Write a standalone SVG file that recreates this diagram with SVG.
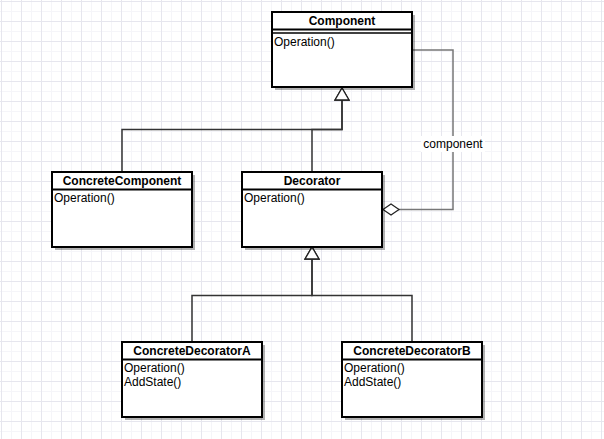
<svg xmlns="http://www.w3.org/2000/svg" width="604" height="439" viewBox="0 0 604 439">
  <defs>
    <pattern id="grid" x="0" y="0" width="20" height="20" patternUnits="userSpaceOnUse">
      <path d="M11.5,0 V20 M0,11.5 H20" fill="none" stroke="#f5f5f9" stroke-width="1"/>
      <path d="M1.5,0 V20 M0,1.5 H20" fill="none" stroke="#e6e6ee" stroke-width="1"/>
    </pattern>
    <marker id="tri" markerUnits="userSpaceOnUse" markerWidth="16" markerHeight="16" refX="12" refY="7" orient="auto" overflow="visible">
      <path d="M0,0 L12,7 L0,14 Z" fill="#fff" stroke="#222" stroke-width="1.3"/>
    </marker>
    <marker id="dia" markerUnits="userSpaceOnUse" markerWidth="18" markerHeight="12" refX="16" refY="5.5" orient="auto" overflow="visible">
      <path d="M0,5.5 L8,0 L16,5.5 L8,11 Z" fill="#fff" stroke="#222" stroke-width="1.2"/>
    </marker>
  </defs>
  <style>
    .shadow { fill: #000; fill-opacity: 0.3; }
    .box { fill: #fff; stroke: #000; stroke-width: 2; }
    .sep { stroke: #000; stroke-width: 2; }
    .sep2 { stroke: #000; stroke-width: 1.5; }
    .title { font-family: "Liberation Sans", Arial, sans-serif; font-size: 12px; font-weight: bold; text-anchor: middle; fill: #000; }
    .op { font-family: "Liberation Sans", Arial, sans-serif; font-size: 12px; fill: #000; }
    .edge { fill: none; stroke: #333; stroke-width: 1.5; }
    .assoc { fill: none; stroke: #777; stroke-width: 1.5; }
    .label { font-family: "Liberation Sans", Arial, sans-serif; font-size: 12px; text-anchor: middle; fill: #000; }
  </style>
  <rect width="604" height="439" fill="#fff"/>
  <rect width="604" height="439" fill="url(#grid)"/>

  <g id="connectors">
    <path class="edge" d="M122,172 V129.5 H342 V88" marker-end="url(#tri)"/>
    <path class="edge" d="M312,172 V129.5 H342 V88" marker-end="url(#tri)"/>
    <path class="edge" d="M192,342 V295.5 H312 V247" marker-end="url(#tri)"/>
    <path class="edge" d="M412,342 V295.5 H312 V247" marker-end="url(#tri)"/>
    <path class="assoc" d="M413,50 H453 V209.5 H383" marker-end="url(#dia)"/>
    <rect x="421" y="136" width="64" height="16" fill="#fff"/>
    <text class="label" x="453" y="148">component</text>
  </g>

  <g id="component">
    <rect class="shadow" x="275" y="15" width="140" height="75"/>
    <rect class="box" x="272" y="12" width="140" height="75"/>
    <line class="sep" x1="272" y1="29.5" x2="412" y2="29.5"/>
    <line class="sep2" x1="272" y1="33" x2="412" y2="33"/>
    <text class="title" x="342" y="25">Component</text>
    <text class="op" x="274" y="46">Operation()</text>
  </g>

  <g id="concrete-component">
    <rect class="shadow" x="55" y="175" width="140" height="75"/>
    <rect class="box" x="52" y="172" width="140" height="75"/>
    <line class="sep" x1="52" y1="189.5" x2="192" y2="189.5"/>
    <text class="title" x="122" y="185">ConcreteComponent</text>
    <text class="op" x="54" y="202">Operation()</text>
  </g>

  <g id="decorator">
    <rect class="shadow" x="245" y="175" width="140" height="75"/>
    <rect class="box" x="242" y="172" width="140" height="75"/>
    <line class="sep" x1="242" y1="189.5" x2="382" y2="189.5"/>
    <text class="title" x="312" y="185">Decorator</text>
    <text class="op" x="244" y="202">Operation()</text>
  </g>

  <g id="concrete-decorator-a">
    <rect class="shadow" x="125" y="345" width="140" height="75"/>
    <rect class="box" x="122" y="342" width="140" height="75"/>
    <line class="sep" x1="122" y1="359.5" x2="262" y2="359.5"/>
    <text class="title" x="192" y="355">ConcreteDecoratorA</text>
    <text class="op" x="124" y="372">Operation()</text>
    <text class="op" x="124" y="386">AddState()</text>
  </g>

  <g id="concrete-decorator-b">
    <rect class="shadow" x="345" y="345" width="140" height="75"/>
    <rect class="box" x="342" y="342" width="140" height="75"/>
    <line class="sep" x1="342" y1="359.5" x2="482" y2="359.5"/>
    <text class="title" x="412" y="355">ConcreteDecoratorB</text>
    <text class="op" x="344" y="372">Operation()</text>
    <text class="op" x="344" y="386">AddState()</text>
  </g>
</svg>
